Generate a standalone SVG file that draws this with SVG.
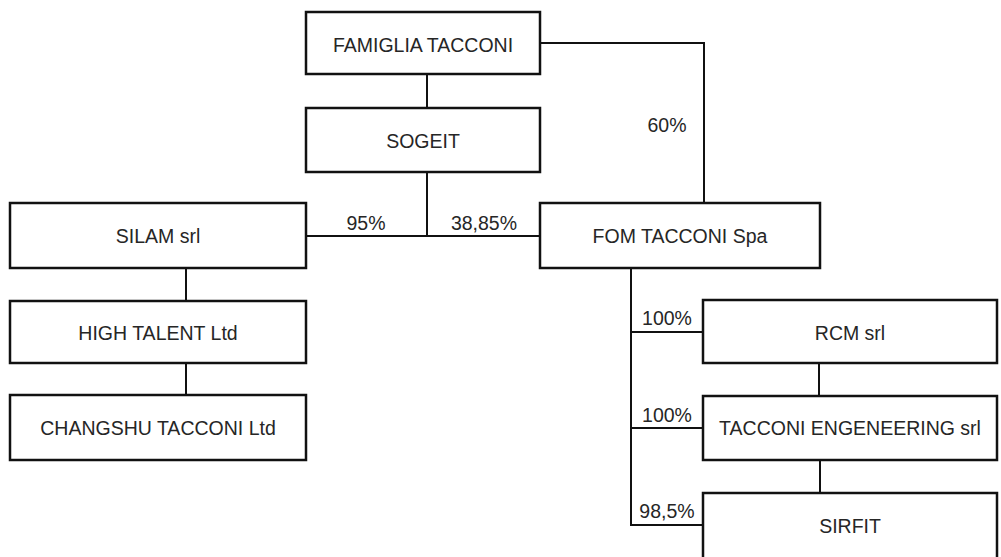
<svg xmlns="http://www.w3.org/2000/svg" width="1001" height="557" viewBox="0 0 1001 557">
<style>
.box{fill:#fff;stroke:#111;stroke-width:2.5}
.lbl{font-family:"Liberation Sans",Arial,sans-serif;font-size:19.5px;fill:#262626;text-anchor:middle}
.pct{font-family:"Liberation Sans",Arial,sans-serif;font-size:19.5px;fill:#262626;text-anchor:middle}
.con{fill:none;stroke:#111;stroke-width:2}
</style>
<rect width="1001" height="557" fill="#fff"/>
<g id="connectors">
<path class="con" d="M427,74 V108"/>
<path class="con" d="M540,43 H704 V203"/>
<path class="con" d="M427,172 V236"/>
<path class="con" d="M306,236 H540"/>
<path class="con" d="M186,268 V301"/>
<path class="con" d="M186,363 V395"/>
<path class="con" d="M631,268 V525 H703"/>
<path class="con" d="M631,332 H703"/>
<path class="con" d="M631,428 H703"/>
<path class="con" d="M819,363 V396"/>
<path class="con" d="M820,460 V493"/>
<text class="pct" x="667" y="132">60%</text>
<text class="pct" x="366" y="230">95%</text>
<text class="pct" x="484" y="230">38,85%</text>
<text class="pct" x="667" y="325">100%</text>
<text class="pct" x="667" y="422">100%</text>
<text class="pct" x="667" y="518">98,5%</text>
</g>
<g id="famiglia"><rect class="box" x="306" y="12" width="234" height="62"/><text class="lbl" x="423" y="52">FAMIGLIA TACCONI</text></g>
<g id="sogeit"><rect class="box" x="306" y="108" width="234" height="64"/><text class="lbl" x="423" y="148">SOGEIT</text></g>
<g id="silam"><rect class="box" x="10" y="203" width="296" height="65"/><text class="lbl" x="158" y="243">SILAM srl</text></g>
<g id="fom"><rect class="box" x="540" y="203" width="280" height="65"/><text class="lbl" x="680" y="243">FOM TACCONI Spa</text></g>
<g id="hightalent"><rect class="box" x="10" y="301" width="296" height="62"/><text class="lbl" x="158" y="340">HIGH TALENT Ltd</text></g>
<g id="changshu"><rect class="box" x="10" y="395" width="296" height="65"/><text class="lbl" x="158" y="435">CHANGSHU TACCONI Ltd</text></g>
<g id="rcm"><rect class="box" x="703" y="300" width="294" height="63"/><text class="lbl" x="850" y="340">RCM srl</text></g>
<g id="engineering"><rect class="box" x="703" y="396" width="294" height="64"/><text class="lbl" x="850" y="435">TACCONI ENGENEERING srl</text></g>
<g id="sirfit"><rect class="box" x="703" y="493" width="294" height="70"/><text class="lbl" x="850" y="533">SIRFIT</text></g>
</svg>
